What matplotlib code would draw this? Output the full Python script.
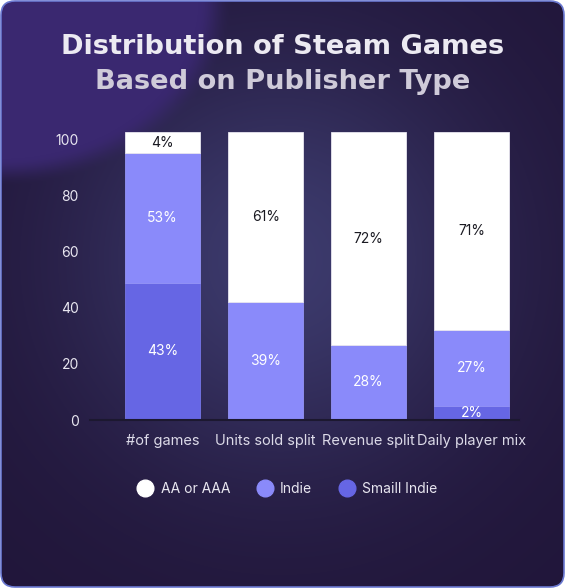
import numpy as np
import matplotlib
matplotlib.use("Agg")
import matplotlib.pyplot as plt
from matplotlib.patches import FancyBboxPatch
from matplotlib.lines import Line2D

# data (plotted heights) and the printed labels
categories = ["#of games", "Units sold split", "Revenue split", "Daily player mix"]
small_indie = [48.8, 0.0, 0.0, 4.9]
indie = [46.2, 42.1, 26.8, 27.2]
aa_aaa = [7.4, 60.3, 75.6, 70.3]
small_lbl = ["43%", "", "", "2%"]
indie_lbl = ["53%", "39%", "28%", "27%"]
aaa_lbl = ["4%", "61%", "72%", "71%"]
yticks = [0, 20, 40, 60, 80, 100]

c_aaa = "#FFFFFF"
c_indie = "#8A8AFA"
c_small = "#6666E4"

W, H = 565, 588
fig = plt.figure(figsize=(W / 100, H / 100), dpi=100)
fig.patch.set_facecolor("white")

# background card
bg = fig.add_axes([0, 0, 1, 1])
bg.set_xlim(0, W)
bg.set_ylim(H, 0)
bg.axis("off")
yy, xx = np.mgrid[0:H, 0:W].astype(float)
base = np.array([33, 22, 58], float)
img = np.ones((H, W, 3)) * base
glow = np.exp(-((xx - 280) ** 2 + (yy - 260) ** 2) / (2 * 150.0 ** 2))
img += glow[..., None] * (np.array([60, 58, 108]) - base)
r = np.sqrt((xx / 215.0) ** 2 + (yy / 172.0) ** 2)
t = np.clip((1.08 - r) / 0.16, 0, 1)
t = t * t * (3 - 2 * t)
img = img * (1 - t[..., None]) + np.array([58, 40, 112]) * t[..., None]
im = bg.imshow(img / 255.0, extent=(0, W, H, 0), zorder=0)
card = FancyBboxPatch((1, 1), W - 2, H - 2, boxstyle="round,pad=0,rounding_size=14",
                      facecolor="none", edgecolor="#6A78D0", linewidth=1.2, zorder=2)
bg.add_patch(card)
im.set_clip_path(card)

# title
fig.text(0.5, 1 - 47 / H, "Distribution of Steam Games", ha="center", va="center",
         fontsize=19.6, fontweight="bold", color="#ECEAF2", family="DejaVu Sans")
fig.text(0.5, 1 - 82 / H, "Based on Publisher Type", ha="center", va="center",
         fontsize=19.6, fontweight="bold", color="#CFCBD9", family="DejaVu Sans")

# chart
ax = fig.add_axes([90 / W, 1 - 420 / H, (519 - 90) / W, (420 - 132.3) / H])
ax.set_facecolor("none")
x = np.arange(len(categories))
bw = 0.73
ax.bar(x, small_indie, bw, color=c_small, edgecolor="#7676E8", linewidth=0.6)
ax.bar(x, indie, bw, bottom=small_indie, color=c_indie, edgecolor="#9494F8", linewidth=0.6)
bot2 = np.array(small_indie) + np.array(indie)
ax.bar(x, aa_aaa, bw, bottom=bot2, color=c_aaa, edgecolor="#E8E6F0", linewidth=0.6)

for i in range(len(categories)):
    if small_lbl[i]:
        ax.text(x[i], small_indie[i] / 2, small_lbl[i], ha="center", va="center",
                color="white", fontsize=10, family="Inter")
    ax.text(x[i], small_indie[i] + indie[i] / 2, indie_lbl[i], ha="center", va="center",
            color="white", fontsize=10, family="Inter")
    ax.text(x[i], bot2[i] + aa_aaa[i] / 2, aaa_lbl[i], ha="center", va="center",
            color="#1A1A22", fontsize=10, family="Inter")

ax.set_xlim(-0.705, 3.46)
ax.set_ylim(0, 102.4)
ax.set_yticks(yticks)
ax.set_xticks(x)
ax.set_xticklabels(categories)
for s in ["top", "right", "left"]:
    ax.spines[s].set_visible(False)
ax.spines["bottom"].set_color("#1C1830")
ax.spines["bottom"].set_linewidth(1.5)
ax.tick_params(axis="y", length=0, pad=8, labelcolor="#E8E6F0", labelsize=10)
ax.tick_params(axis="x", length=0, pad=10, labelcolor="#DCDAE8", labelsize=10.5)
for lab in ax.get_xticklabels() + ax.get_yticklabels():
    lab.set_family("Inter")

handles = [Line2D([], [], marker="o", linestyle="none", markersize=12,
                  markerfacecolor=c, markeredgecolor=c) for c in (c_aaa, c_indie, c_small)]
fig.legend(handles, ["AA or AAA", "Indie", "Smaill Indie"], loc="center",
           bbox_to_anchor=(288 / W, 1 - 489 / H), ncol=3, frameon=False,
           handletextpad=0.6, columnspacing=2.0, handlelength=1.0,
           prop={"family": "Inter", "size": 10}, labelcolor="#E8E6F0")

fig.savefig("out.png", dpi=100, facecolor=fig.get_facecolor())
